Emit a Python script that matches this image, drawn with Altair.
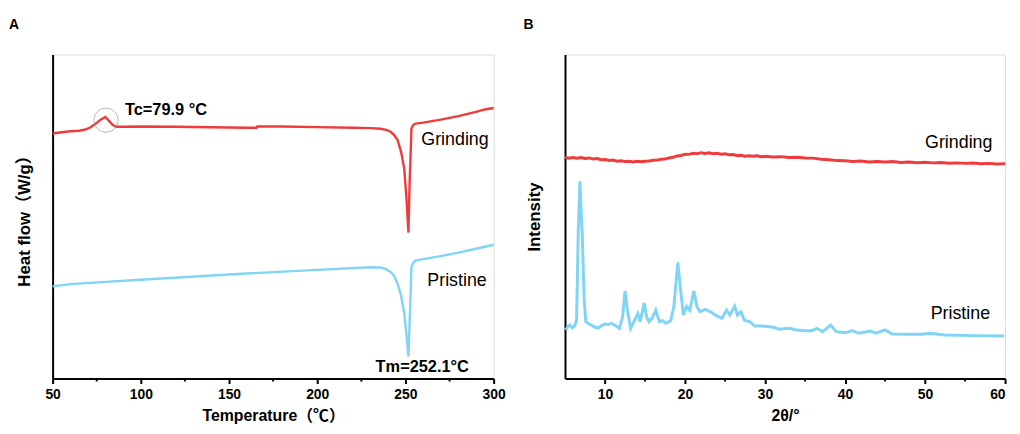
import altair as alt
import pandas as pd

FONT = "Liberation Sans, Arial, Noto Sans CJK SC"
RED = "#EF3B3B"
BLUE = "#80D4F6"

# ---------------- Panel A: DSC ----------------
dsc_grind_T = [50, 55, 60, 65, 68, 71, 74, 77, 79.9, 82, 84, 86, 90, 100, 120, 140, 160, 165.5, 166,
               180, 200, 220, 230, 236, 239, 241.6, 243.5, 245.5, 247.5, 249.3, 250.5, 251.7, 252.4,
               253, 253.4, 254.5, 255.8, 260, 270, 280, 290, 295, 300]
dsc_grind_v = [247.3, 248.5, 249.5, 250, 251, 253, 256.5, 261, 264, 260, 256, 254, 254, 254.3, 254,
               253.5, 253, 253, 254.3, 254.3, 253.7, 253, 252.7, 252, 251, 249, 246, 241, 229, 212,
               184, 147.3, 199, 229, 252.3, 256, 257.3, 258.2, 261.2, 264.7, 269, 271.5, 273]

dsc_pris_T = [50, 60, 80, 100, 150, 200, 230, 236, 239, 241.6, 243.5, 245.5, 247.5, 249.3, 250.5,
              251.7, 252.4, 253, 253.4, 254.5, 255.6, 260, 270, 280, 290, 300]
dsc_pris_v = [93, 95.3, 97.5, 99.7, 105, 109.7, 112.3, 112, 110.5, 107.3, 104, 95.7, 84, 66, 46,
              22.3, 59, 89, 112.3, 117, 119, 120.5, 123.5, 127, 131, 135]

dsc_major = [50, 100, 150, 200, 250, 300]
dsc_minor = [75, 125, 175, 225, 275]

# ---------------- Panel B: XRD ----------------
xrd_grind_2t = [5.0, 5.5, 6.0, 6.5, 7.0, 7.5, 8.0, 8.5, 9.0, 9.5, 10.0, 10.5, 11.0, 11.5, 12.0, 12.5,
                13.0, 13.5, 14.0, 14.5, 15.0, 15.5, 16.0, 16.5, 17.0, 17.5, 18.0, 18.5, 19.0, 19.5,
                20.0, 20.5, 21.0, 21.5, 22.0, 22.5, 23.0, 23.5, 24.0, 24.5, 25.0, 25.5, 26.0, 26.5,
                27.0, 27.5, 28.0, 28.5, 29.0, 29.5, 30, 31, 32, 33, 34, 35, 36, 37, 38, 39, 40, 41,
                42, 43, 44, 45, 46, 47, 48, 49, 50, 51, 52, 53, 54, 55, 56, 57, 58, 59, 60]
xrd_grind_v = [223.0, 222.2, 223.1, 222.4, 223.0, 222.0, 222.6, 221.6, 221.9, 220.8, 221.0, 220.1,
               220.4, 219.3, 219.8, 218.9, 219.3, 218.6, 219.2, 218.7, 219.3, 219.5, 220.2, 220.4,
               221.3, 221.5, 222.6, 223.2, 224.6, 225.1, 226.3, 226.2, 227.3, 226.9, 227.9, 227.2,
               227.8, 226.9, 227.3, 226.4, 226.8, 225.7, 226.0, 225.1, 225.3, 224.4, 224.8, 224.2,
               224.7, 223.8, 224.2, 223.5, 223.9, 223.0, 223.3, 222.5, 222.4, 221.2, 220.8, 219.9,
               219.8, 219.1, 219.4, 218.6, 219.0, 218.5, 218.9, 218.1, 218.5, 217.8, 218.2, 217.6,
               217.9, 217.2, 217.6, 217.1, 217.5, 216.8, 217.1, 216.5, 216.8]

xrd_pris_2t = [5.1, 5.4, 5.6, 5.9, 6.2, 6.45, 6.65, 6.86, 7.15, 7.4, 7.6, 8.0, 8.3, 8.7, 9.1, 9.5,
               9.95, 10.4, 10.8, 11.2, 11.8, 12.2, 12.5, 12.8, 13.2, 13.7, 14.1, 14.4, 14.9, 15.2,
               15.5, 15.9, 16.35, 16.8, 17.2, 17.6, 18.2, 18.6, 19.1, 19.45, 19.8, 20.2, 20.6, 21.1,
               21.5, 21.9, 22.5, 23.2, 23.8, 24.6, 25.2, 25.6, 26.2, 26.55, 27.0, 27.4, 28.1, 28.7,
               29.8, 31.0, 31.8, 33.1, 33.9, 35.1, 35.8, 36.5, 37.2, 38.2, 38.9, 40.1, 40.9, 41.7,
               43.2, 43.8, 45.0, 45.9, 47.5, 49.6, 50.6, 52.5, 55.8, 59.9]
xrd_pris_v = [49, 53, 54, 51.3, 53, 59, 146, 199, 146, 79, 57.3, 55, 54, 52, 51, 53, 55, 54.5, 55.7,
              54, 50.7, 62.3, 88.3, 69, 50.7, 59, 65.7, 57.3, 76.3, 62.3, 57.3, 61, 69, 57.3, 58.3,
              55.7, 58.3, 72.3, 117.3, 89, 64, 73, 69, 88.3, 72.3, 67.3, 69.7, 67.3, 64, 60.7, 69,
              64, 73, 64, 67.3, 59, 57.3, 53, 53, 51.7, 49.7, 50.7, 49, 48.3, 48.3, 50.7, 47.3, 54,
              47.3, 46.3, 48.3, 45.7, 48, 45.7, 49, 45, 44.7, 44.7, 45.7, 44, 43.3, 43]

xrd_major = [10, 20, 30, 40, 50, 60]
xrd_minor = [15, 25, 35, 45, 55]

W_A, W_B, H = 445, 444, 327
YMAX = 327


def xaxis(title, values, flush):
    return alt.Axis(title=title, values=values, grid=False, domainColor="black", domainWidth=2,
                    tickColor="black", tickWidth=2, tickSize=5, labelFont=FONT, labelFontSize=14,
                    labelFontWeight="bold", labelColor="black", labelPadding=4, titleFont=FONT,
                    titleFontSize=16, titleFontWeight="bold", titleColor="black", titlePadding=6,
                    labelFlush=flush)


def yaxis(title, pad):
    return alt.Axis(title=title, labels=False, ticks=False, grid=False, domainColor="black",
                    domainWidth=2, titleFont=FONT, titleFontSize=17, titleFontWeight="bold",
                    titleColor="black", titlePadding=pad)


# ---- Panel A ----
dfA = pd.concat([
    pd.DataFrame({"T": dsc_grind_T, "v": dsc_grind_v, "s": "Grinding"}),
    pd.DataFrame({"T": dsc_pris_T, "v": dsc_pris_v, "s": "Pristine"}),
])
xA = alt.X("T:Q", scale=alt.Scale(domain=[50, 300], nice=False, zero=False),
           axis=xaxis("Temperature（℃）", dsc_major, False))
yA = alt.Y("v:Q", scale=alt.Scale(domain=[0, YMAX], nice=False), axis=yaxis("Heat flow（W/g）", 19))

linesA = alt.Chart(dfA).mark_line(strokeWidth=2.4).encode(
    x=xA, y=yA,
    color=alt.Color("s:N", scale=alt.Scale(domain=["Grinding", "Pristine"], range=[RED, BLUE]), legend=None),
    detail="s:N",
)
circA = alt.Chart(pd.DataFrame({"T": [80.3], "v": [260.7]})).mark_point(
    shape="circle", size=600, filled=False, stroke="#9a9a9a", strokeWidth=1).encode(x="T:Q", y="v:Q")
boldA = alt.Chart(pd.DataFrame({"T": [91, 233.1], "v": [271, 12], "t": ["Tc=79.9 °C", "Tm=252.1°C"]})).mark_text(
    align="left", baseline="middle", font=FONT, fontSize=16.5, fontWeight="bold", color="black").encode(
    x="T:Q", y="v:Q", text="t:N")
normA = alt.Chart(pd.DataFrame({"T": [259, 262.4], "v": [241, 98], "t": ["Grinding", "Pristine"]})).mark_text(
    align="left", baseline="middle", font=FONT, fontSize=18, color="black").encode(
    x="T:Q", y="v:Q", text="t:N")
minorA = alt.Chart(pd.DataFrame({"T": dsc_minor})).mark_rule(color="black", strokeWidth=2).encode(
    x="T:Q", y=alt.value(H), y2=alt.value(H + 3))
labA = alt.Chart(pd.DataFrame({"t": ["A"]})).mark_text(
    align="left", baseline="middle", font=FONT, fontSize=14, fontWeight="bold", color="black").encode(
    x=alt.value(-44), y=alt.value(-30), text="t:N")

panelA = alt.layer(linesA, circA, boldA, normA, minorA, labA).properties(width=W_A, height=H)

# ---- Panel B ----
dfB = pd.concat([
    pd.DataFrame({"x": xrd_grind_2t, "v": xrd_grind_v, "s": "Grinding"}),
    pd.DataFrame({"x": xrd_pris_2t, "v": xrd_pris_v, "s": "Pristine"}),
])
xB = alt.X("x:Q", scale=alt.Scale(domain=[5, 60], nice=False, zero=False),
           axis=xaxis("2θ/°", xrd_major, True))
yB = alt.Y("v:Q", scale=alt.Scale(domain=[0, YMAX], nice=False), axis=yaxis("Intensity", 22))

linesB = alt.Chart(dfB).mark_line(strokeWidth=3).encode(
    x=xB, y=yB,
    color=alt.Color("s:N", scale=alt.Scale(domain=["Grinding", "Pristine"], range=[RED, BLUE]), legend=None),
    detail="s:N",
)
normB = alt.Chart(pd.DataFrame({"x": [50.0, 50.7], "v": [237.3, 65], "t": ["Grinding", "Pristine"]})).mark_text(
    align="left", baseline="middle", font=FONT, fontSize=18, color="black").encode(
    x="x:Q", y="v:Q", text="t:N")
minorB = alt.Chart(pd.DataFrame({"x": xrd_minor})).mark_rule(color="black", strokeWidth=2).encode(
    x="x:Q", y=alt.value(H), y2=alt.value(H + 3))
labB = alt.Chart(pd.DataFrame({"t": ["B"]})).mark_text(
    align="left", baseline="middle", font=FONT, fontSize=14, fontWeight="bold", color="black").encode(
    x=alt.value(-42), y=alt.value(-30), text="t:N")

panelB = alt.layer(linesB, normB, minorB, labB).properties(width=W_B, height=H)

chart = alt.hconcat(panelA, panelB, spacing=16).resolve_scale(color="independent").properties(
    padding={"left": 0, "top": 7, "right": 0, "bottom": 0}
).configure_view(stroke=None).configure(background="white")

chart.save("out.html", embed_options={"renderer": "svg", "actions": False})
